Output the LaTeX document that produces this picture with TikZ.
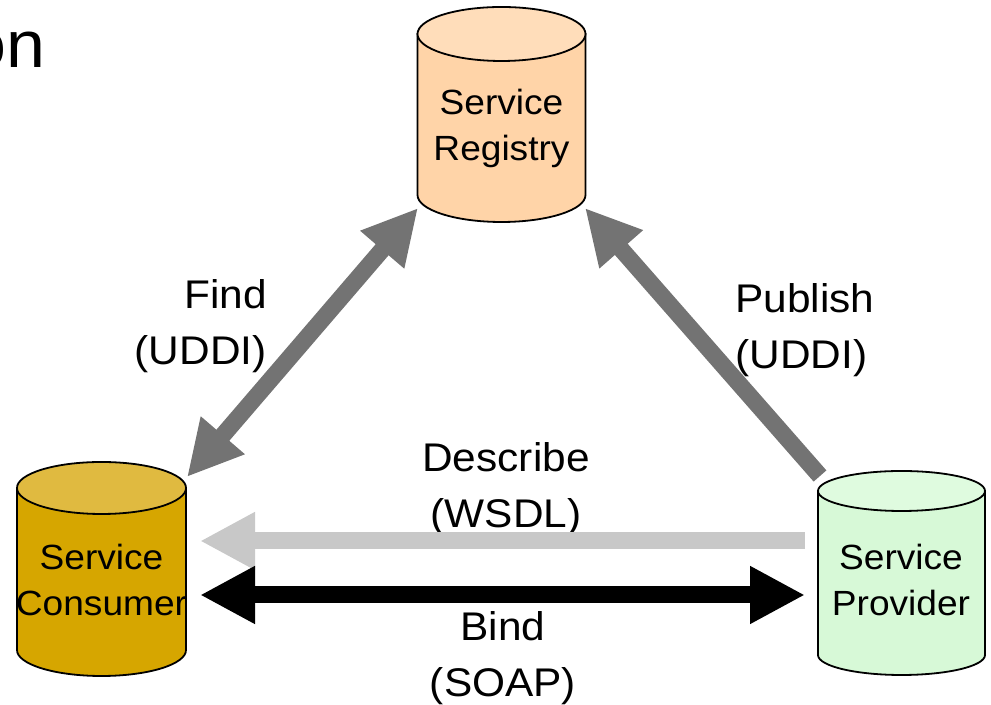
\documentclass[tikz,border=0pt]{standalone}
\usepackage{fontspec}
\setmainfont{Liberation Sans}[FakeStretch=1.06]
\usetikzlibrary{arrows.meta}
\definecolor{regbody}{HTML}{FFD4A8}
\definecolor{regtop}{HTML}{FFDDBA}
\definecolor{conbody}{HTML}{D6A600}
\definecolor{contop}{HTML}{E0BA40}
\definecolor{probody}{HTML}{D7F9D7}
\definecolor{protop}{HTML}{DFFBDF}
\definecolor{darkarrow}{HTML}{737373}
\definecolor{lightarrow}{HTML}{C8C8C8}
% can: body colour, top colour, (centre x, top y)(bottom y : x radius : y radius)
\def\can[#1][#2](#3,#4)(#5:#6:#7){%
	\draw[line width=0.9pt, fill=#1] ({#3-#6},#4) -- ({#3-#6},#5) arc (180:360:#6 and #7) -- ({#3+#6},#4) -- cycle;
	\draw[line width=0.9pt, fill=#2] (#3,#4) ellipse ({#6} and {#7});}
\tikzset{
	fathead/.tip={Triangle[length=27.5pt,width=27pt]},
	cantext/.style={font=\fontsize{17.5}{23}\selectfont, align=center, inner sep=0pt},
	steplabel/.style={font=\fontsize{20}{28}\selectfont, inner sep=0pt},
	fatarrow/.style={line width=8.5pt}
}

\begin{document}
\begin{tikzpicture}[x=0.5pt, y=0.5pt]
			%%%%% START %%%%%
			\useasboundingbox (0, 0) rectangle (991, 705);
			
			\node[font=\fontsize{33}{40}\selectfont, anchor=base east, inner sep=0pt] (title) at (46, 637) {on};
			
			\can[regbody][regtop](501.5, 671)(510:84:27);
			\can[conbody][contop](101.5, 217)(55:84.5:26);
			\can[probody][protop](901.5, 214)(50:83.5:20);
			
			\node[cantext] (registry) at (501.5, 576.5) {Service\\Registry};
			\node[cantext] (consumer) at (101.5, 125) {Service\\Consumer};
			\node[cantext] (provider) at (901, 125) {Service\\Provider};
			
			\node[steplabel, align=right, anchor=east] (find) at (267, 378.5) {Find\\(UDDI)};
			\node[steplabel, align=left, anchor=west] (publish) at (735, 375) {Publish\\(UDDI)};
			\node[steplabel, align=center] (describe) at (506, 216) {Describe\\(WSDL)};
			\node[steplabel, align=center] (bind) at (503, 47) {Bind\\(SOAP)};
			
			\coordinate (find-top) at (418, 497);
			\coordinate (find-bottom) at (187, 228);
			\coordinate (publish-tail) at (820, 229);
			\coordinate (publish-tip) at (585, 497);
			\coordinate (describe-tail) at (805, 164);
			\coordinate (describe-tip) at (200, 164);
			\coordinate (bind-left) at (200, 110);
			\coordinate (bind-right) at (805, 110);
			
			\draw[fatarrow, color=darkarrow, fathead-fathead] (find-bottom) -- (find-top);
			\draw[fatarrow, color=darkarrow, -fathead] (publish-tail) -- (publish-tip);
			\draw[fatarrow, color=lightarrow, -fathead] (describe-tail) -- (describe-tip);
			\draw[fatarrow, color=black, fathead-fathead] (bind-left) -- (bind-right);
			
			%%%%% END %%%%%
\end{tikzpicture}
\end{document}
